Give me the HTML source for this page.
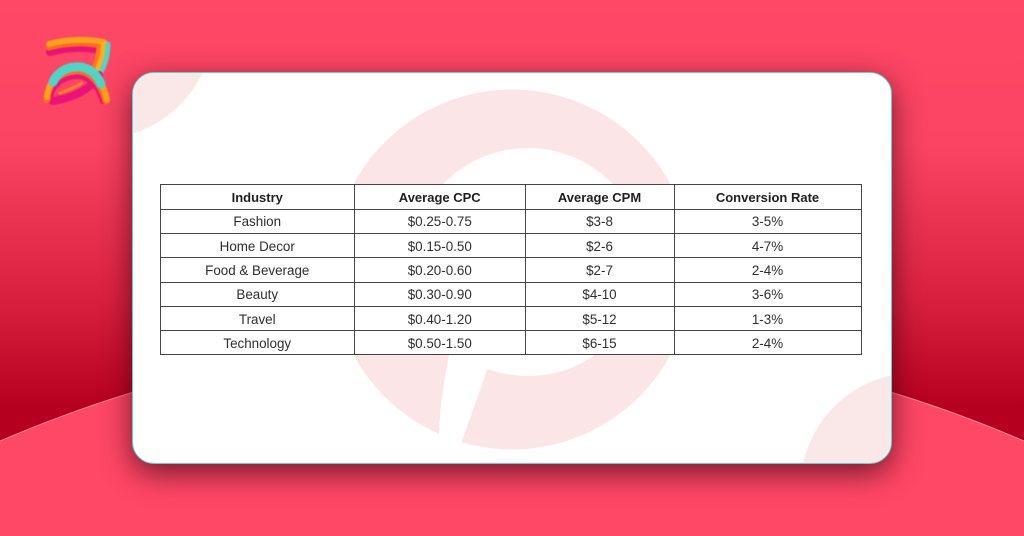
<!DOCTYPE html>
<html lang="en">
<head>
<meta charset="utf-8">
<title>Pinterest ads benchmarks by industry</title>
<style>
html,body{margin:0;padding:0;width:1024px;height:536px;overflow:hidden}
body{position:relative;font-family:"Liberation Sans",sans-serif}
.bg{position:absolute;left:0;top:0;display:block}
.logo{filter:blur(.5px)}
.card{position:absolute;left:132px;top:72px;width:757.5px;height:390px;background:#fff;border:1.5px solid #4fd8d2;border-radius:22px;box-shadow:0 9px 30px rgba(50,0,15,.68);overflow:hidden}
.deco{position:absolute;left:-133.5px;top:-73.5px;display:block}
table{position:absolute;left:26.5px;top:110.5px;width:701px;height:171px;border-collapse:collapse;table-layout:fixed;background:#fff;color:#2e2e2e;font-size:13.4px;text-align:center}
th,td{box-sizing:border-box;border:1px solid #444;padding:2px 0 0;height:24.3px;line-height:18px;overflow:hidden;white-space:nowrap}
th{color:#1f1f1f;font-weight:bold;font-size:13px;padding-top:2px;height:25.2px}
</style>
</head>
<body>
<svg class="bg" width="1024" height="536" viewBox="0 0 1024 536">
<defs>
<linearGradient id="bgGrad" x1="0" y1="0" x2="0" y2="1">
<stop offset="0" stop-color="#ff4766"/>
<stop offset=".27" stop-color="#fb4363"/>
<stop offset=".56" stop-color="#d9203f"/>
<stop offset=".76" stop-color="#b6001f"/>
<stop offset="1" stop-color="#b6001f"/>
</linearGradient>
</defs>
<rect width="1024" height="536" fill="url(#bgGrad)"/>
<path d="M0 441A1295 1295 0 0 1 1024 441L1024 536L0 536Z" fill="#ff4766"/>
<path d="M0 441A1295 1295 0 0 1 1024 441" fill="none" stroke="#ff8496" stroke-width="1"/>
</svg>
<svg class="bg logo" width="1024" height="536" viewBox="0 0 1024 536" fill="none" stroke-linecap="round" stroke-linejoin="round">
<path d="M50 52Q75 45 100 50" stroke="#e8127a" stroke-width="8"/>
<path d="M49 47Q75 40 102 45" stroke="#ff6a1e" stroke-width="7"/>
<path d="M49 44Q75 37 104 42" stroke="#ffa31a" stroke-width="6"/>
<path d="M100 48Q99 62 92 75" stroke="#ff7a1a" stroke-width="7"/>
<path d="M104 45Q103 60 96 75" stroke="#ffb020" stroke-width="6"/>
<path d="M108 44Q108 60 100 74" stroke="#4cd6c8" stroke-width="5"/>
<path d="M53 101Q78 97 92 84Q97 79 99 75" stroke="#e8127a" stroke-width="8"/>
<path d="M60 93Q72 89 82 83" stroke="#ff8a1a" stroke-width="3"/>
<path d="M50 101C50 85 63 77 76 76C88 75 98 85 103 101" stroke="#e8127a" stroke-width="6"/>
<path d="M47 100C48 81 60 72 76 71C90 70 101 83 106 101" stroke="#ff6a1e" stroke-width="7"/>
<path d="M47 97C49 80 60 69 76 68C91 67 103 80 107 100" stroke="#ffa31a" stroke-width="6"/>
<path d="M53 82C58 71 68 67 76 67C88 66 97 74 101 84" stroke="#4cd6c8" stroke-width="9"/>
</svg>
<div class="card">
<svg class="deco" width="1024" height="536" viewBox="0 0 1024 536">
<path d="M132 134A117 117 0 0 0 203 72L132 72Z" fill="#fae8e9"/>
<path d="M803 464A116 116 0 0 1 892 375L892 464Z" fill="#fae8e9"/>
<g>
<circle cx="512" cy="269.5" r="180" fill="#fbe5e7"/>
<ellipse cx="528" cy="262" rx="116" ry="114" fill="#fff"/>
<path d="M450 350L494 350L462 441L452 462L436 462L439 433Q440 400 450 350Z" fill="#fff"/>
</g>
</svg>
<table>
<colgroup><col style="width:194.5px"><col style="width:170.5px"><col style="width:149px"><col style="width:187px"></colgroup>
<thead>
<tr><th>Industry</th><th>Average CPC</th><th>Average CPM</th><th>Conversion Rate</th></tr>
</thead>
<tbody>
<tr><td>Fashion</td><td>$0.25-0.75</td><td>$3-8</td><td>3-5%</td></tr>
<tr><td>Home Decor</td><td>$0.15-0.50</td><td>$2-6</td><td>4-7%</td></tr>
<tr><td>Food &amp; Beverage</td><td>$0.20-0.60</td><td>$2-7</td><td>2-4%</td></tr>
<tr><td>Beauty</td><td>$0.30-0.90</td><td>$4-10</td><td>3-6%</td></tr>
<tr><td>Travel</td><td>$0.40-1.20</td><td>$5-12</td><td>1-3%</td></tr>
<tr><td>Technology</td><td>$0.50-1.50</td><td>$6-15</td><td>2-4%</td></tr>
</tbody>
</table>
</div>
</body>
</html>
